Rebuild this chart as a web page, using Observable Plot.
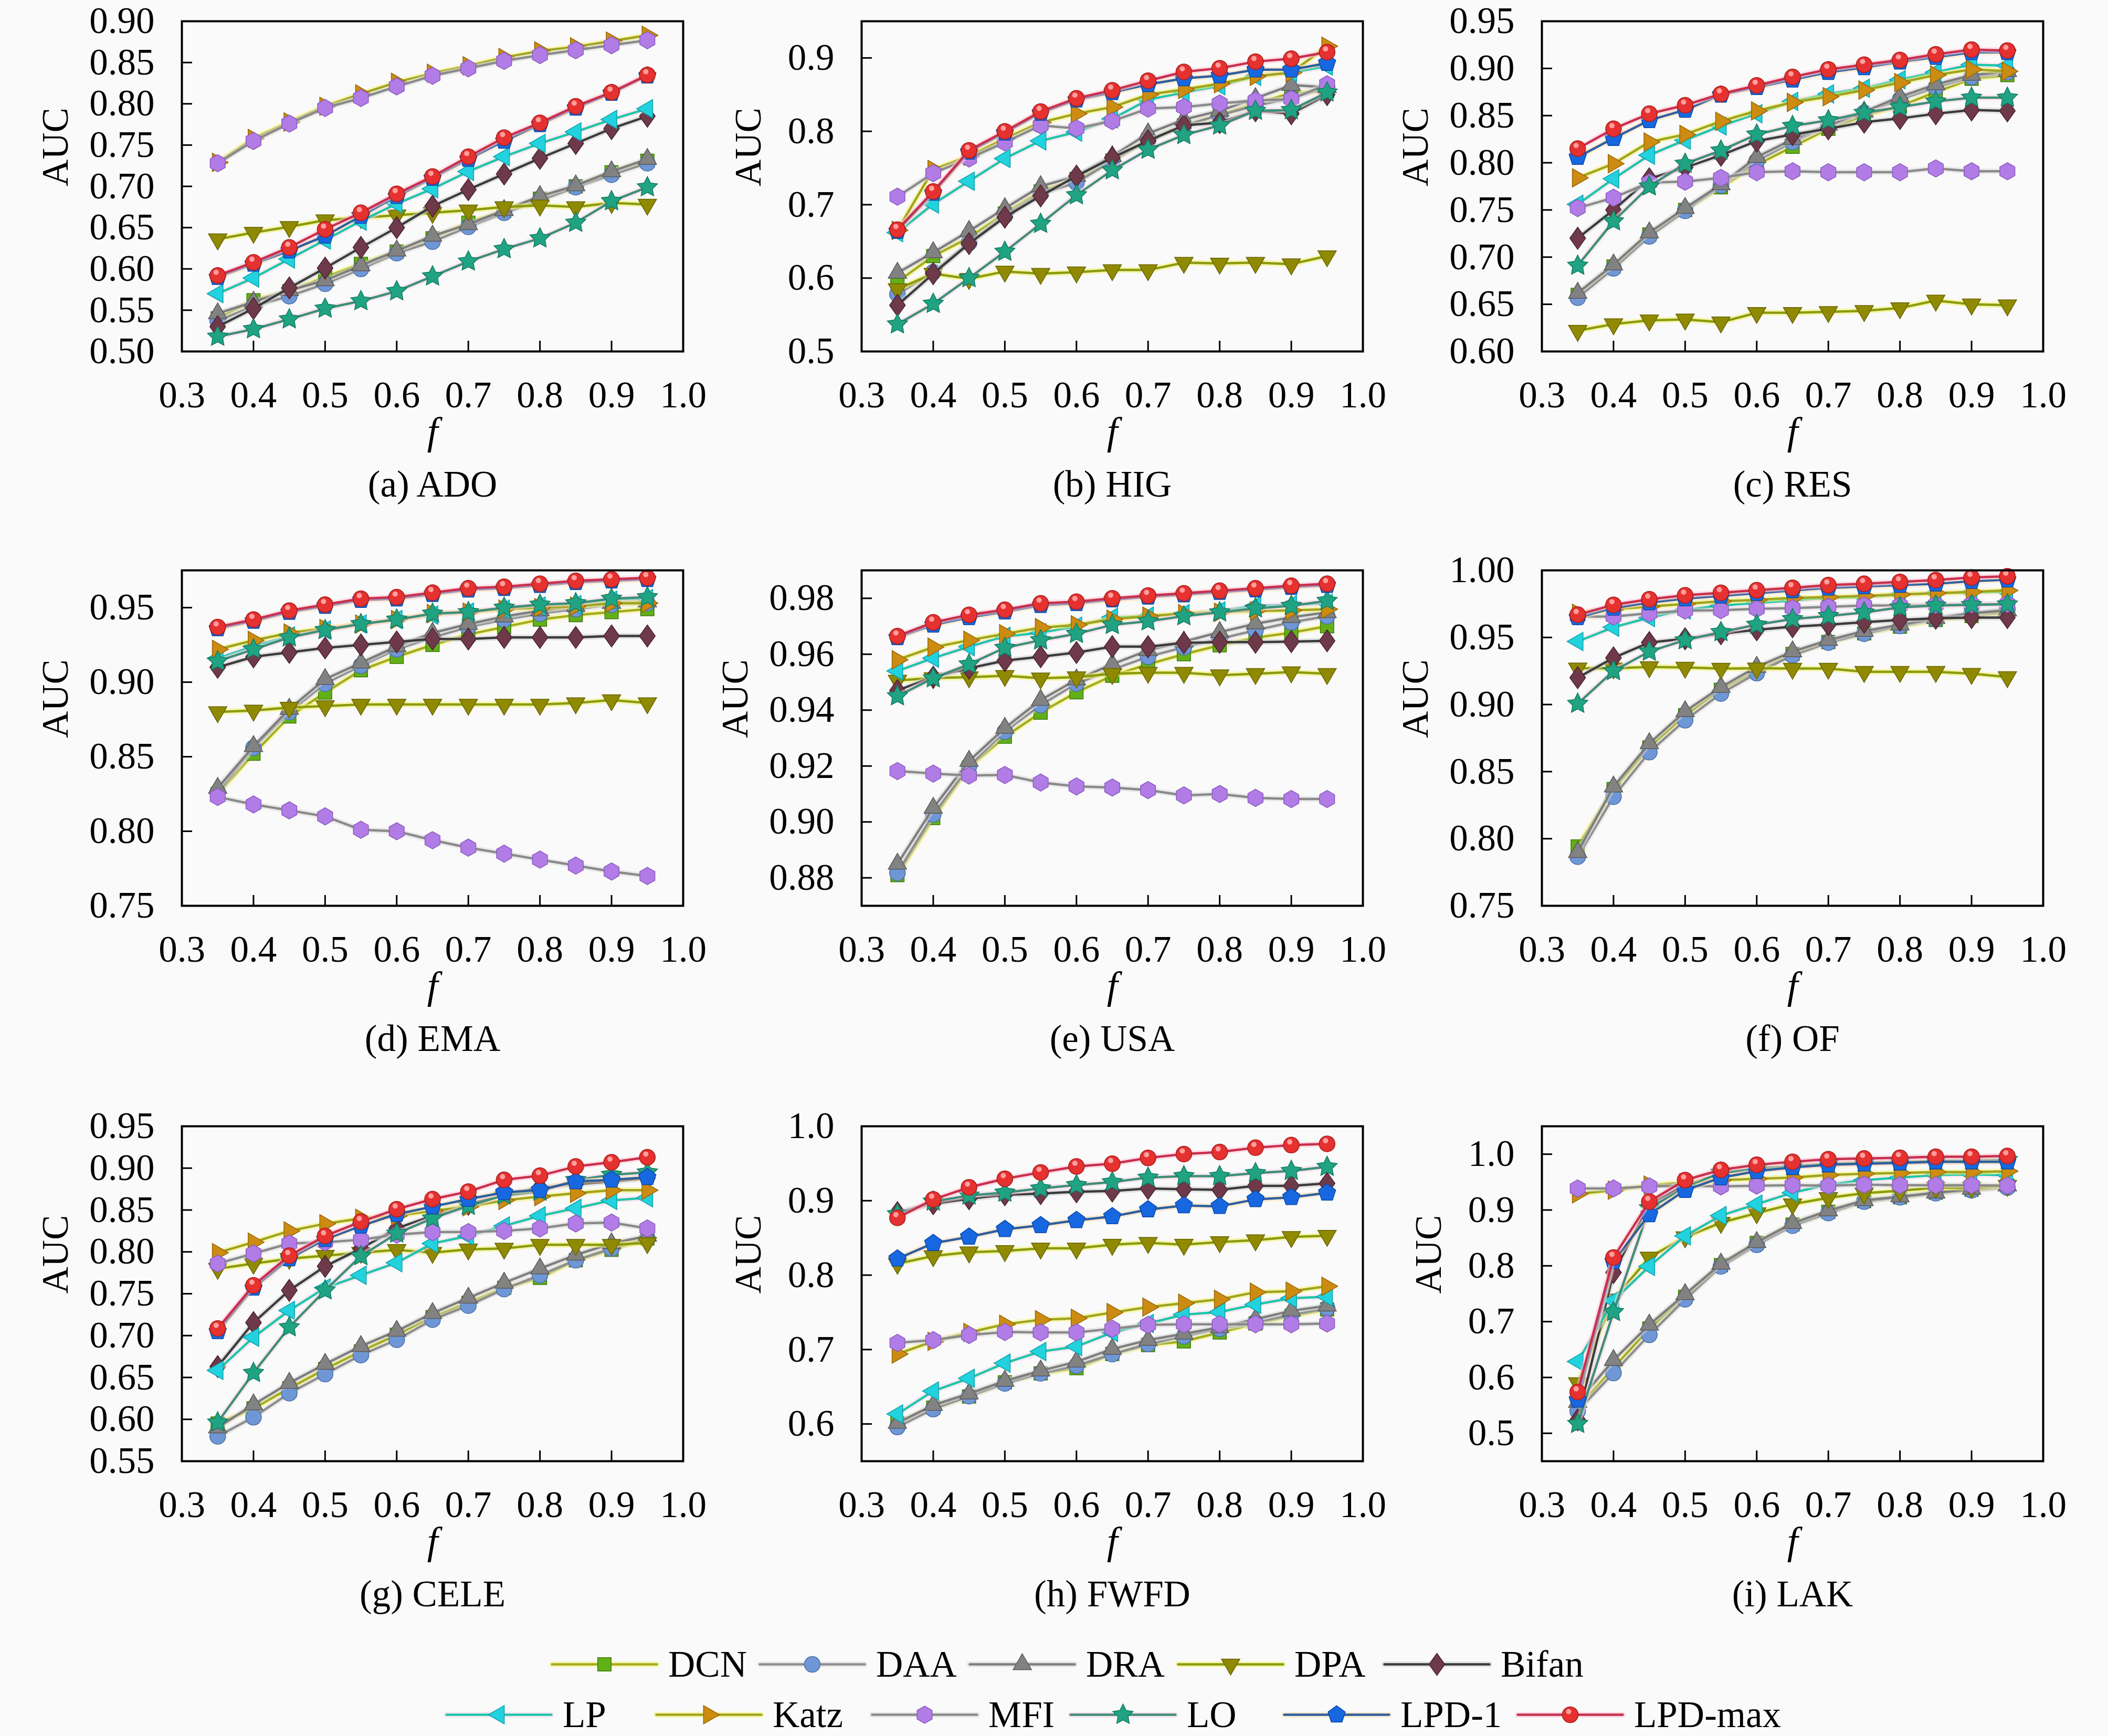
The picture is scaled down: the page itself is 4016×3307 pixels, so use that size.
<!DOCTYPE html>
<html><head><meta charset="utf-8">
<script src="https://cdn.jsdelivr.net/npm/d3@7"></script>
<script src="https://cdn.jsdelivr.net/npm/@observablehq/plot@0.6"></script>
<style>
html,body{margin:0;padding:0;background:#fafafa;}
#root{position:relative;width:4016px;height:3307px;background:#fafafa;overflow:hidden;font-family:"Liberation Serif",serif;}
.panel{position:absolute;}
.leg{position:absolute;display:flex;align-items:center;height:80px;color:#000;}
.leg span{margin-left:22px;line-height:1;}
</style></head>
<body><div id="root"></div>
<script>
// ---------- data ----------
const F = [0.35,0.40,0.45,0.50,0.55,0.60,0.65,0.70,0.75,0.80,0.85,0.90,0.95];
const X_TICKS = [0.3,0.4,0.5,0.6,0.7,0.8,0.9,1.0];
const METHODS = ["DCN","DAA","DRA","DPA","Bifan","LP","Katz","MFI","LO","LPD-1","LPD-max"];

// order of rows in every panel array = METHODS
const ADO = [
 [0.540,0.562,0.573,0.590,0.606,0.621,0.637,0.656,0.670,0.685,0.700,0.717,0.731],
 [0.537,0.555,0.567,0.582,0.600,0.619,0.633,0.651,0.668,0.683,0.699,0.714,0.728],
 [0.546,0.560,0.574,0.586,0.604,0.622,0.640,0.654,0.671,0.688,0.701,0.718,0.733],
 [0.636,0.644,0.651,0.659,0.662,0.665,0.668,0.671,0.675,0.677,0.675,0.680,0.678],
 [0.530,0.552,0.577,0.601,0.626,0.650,0.676,0.696,0.715,0.734,0.752,0.770,0.785],
 [0.570,0.589,0.612,0.635,0.658,0.679,0.697,0.718,0.736,0.752,0.766,0.781,0.794],
 [0.729,0.758,0.778,0.797,0.812,0.826,0.837,0.846,0.856,0.864,0.869,0.876,0.883],
 [0.728,0.755,0.776,0.795,0.807,0.821,0.834,0.843,0.852,0.859,0.865,0.871,0.877],
 [0.518,0.527,0.539,0.552,0.561,0.573,0.591,0.609,0.624,0.637,0.656,0.682,0.699],
 [0.590,0.606,0.622,0.640,0.664,0.688,0.710,0.733,0.755,0.775,0.795,0.813,0.834],
 [0.592,0.608,0.626,0.648,0.668,0.691,0.712,0.736,0.759,0.777,0.797,0.814,0.835]
];
const HIG = [
 [0.595,0.630,0.655,0.688,0.718,0.735,0.760,0.788,0.808,0.822,0.838,0.852,0.855],
 [0.578,0.608,0.648,0.685,0.715,0.730,0.760,0.788,0.808,0.822,0.835,0.845,0.860],
 [0.607,0.635,0.664,0.695,0.725,0.739,0.766,0.797,0.816,0.828,0.845,0.863,0.860],
 [0.585,0.606,0.599,0.609,0.606,0.608,0.611,0.611,0.621,0.620,0.621,0.619,0.630],
 [0.563,0.606,0.647,0.683,0.712,0.739,0.764,0.787,0.808,0.812,0.828,0.824,0.850],
 [0.662,0.701,0.732,0.763,0.787,0.799,0.817,0.843,0.853,0.862,0.875,0.880,0.889],
 [0.665,0.748,0.766,0.790,0.812,0.824,0.833,0.850,0.857,0.865,0.875,0.880,0.916],
 [0.711,0.743,0.763,0.785,0.808,0.804,0.814,0.831,0.833,0.838,0.842,0.844,0.864],
 [0.537,0.565,0.600,0.636,0.674,0.713,0.747,0.775,0.795,0.808,0.828,0.829,0.853],
 [0.664,0.716,0.772,0.798,0.825,0.843,0.853,0.864,0.872,0.876,0.884,0.884,0.893],
 [0.666,0.718,0.774,0.800,0.827,0.845,0.856,0.869,0.881,0.886,0.895,0.899,0.908]
];
const RES = [
 [0.660,0.690,0.724,0.750,0.774,0.798,0.817,0.836,0.850,0.860,0.875,0.889,0.893],
 [0.657,0.688,0.722,0.749,0.776,0.802,0.822,0.839,0.853,0.867,0.880,0.891,0.896],
 [0.662,0.692,0.726,0.752,0.777,0.806,0.825,0.840,0.854,0.870,0.883,0.893,0.897],
 [0.622,0.629,0.633,0.634,0.631,0.641,0.641,0.642,0.643,0.646,0.654,0.650,0.649],
 [0.720,0.750,0.783,0.795,0.808,0.823,0.830,0.836,0.843,0.847,0.852,0.856,0.855],
 [0.756,0.783,0.808,0.824,0.839,0.852,0.865,0.873,0.879,0.888,0.896,0.904,0.903],
 [0.784,0.799,0.822,0.830,0.844,0.855,0.864,0.870,0.877,0.885,0.893,0.899,0.897],
 [0.752,0.763,0.779,0.780,0.784,0.790,0.791,0.790,0.790,0.790,0.794,0.791,0.791],
 [0.691,0.738,0.775,0.799,0.813,0.830,0.839,0.845,0.853,0.859,0.865,0.869,0.869],
 [0.806,0.826,0.845,0.856,0.872,0.880,0.888,0.896,0.901,0.907,0.912,0.917,0.917],
 [0.815,0.836,0.852,0.861,0.873,0.882,0.891,0.899,0.904,0.909,0.915,0.920,0.919]
];
const EMA = [
 [0.825,0.852,0.877,0.893,0.908,0.917,0.925,0.932,0.937,0.942,0.945,0.947,0.949],
 [0.826,0.856,0.880,0.899,0.911,0.922,0.930,0.937,0.942,0.946,0.949,0.952,0.953],
 [0.829,0.857,0.882,0.902,0.913,0.924,0.933,0.939,0.944,0.948,0.951,0.953,0.954],
 [0.880,0.881,0.883,0.884,0.885,0.885,0.885,0.885,0.885,0.885,0.886,0.888,0.886],
 [0.910,0.917,0.920,0.923,0.925,0.927,0.929,0.929,0.930,0.930,0.930,0.931,0.931],
 [0.916,0.924,0.931,0.935,0.939,0.942,0.945,0.947,0.949,0.951,0.952,0.955,0.956],
 [0.922,0.928,0.933,0.936,0.939,0.942,0.946,0.947,0.949,0.950,0.951,0.953,0.953],
 [0.823,0.818,0.814,0.810,0.801,0.800,0.794,0.789,0.785,0.781,0.777,0.773,0.770],
 [0.914,0.922,0.930,0.935,0.939,0.942,0.946,0.947,0.950,0.952,0.953,0.956,0.957],
 [0.936,0.941,0.947,0.951,0.955,0.956,0.959,0.962,0.963,0.965,0.967,0.968,0.969],
 [0.937,0.942,0.948,0.952,0.956,0.957,0.960,0.963,0.964,0.966,0.968,0.969,0.970]
];
const USA = [
 [0.8810,0.9014,0.9195,0.9305,0.9391,0.9464,0.9523,0.9564,0.9600,0.9632,0.9659,0.9677,0.9700],
 [0.8818,0.9027,0.9200,0.9323,0.9418,0.9495,0.9545,0.9591,0.9625,0.9655,0.9686,0.9714,0.9736],
 [0.8850,0.9050,0.9218,0.9336,0.9436,0.9509,0.9564,0.9614,0.9645,0.9679,0.9709,0.9732,0.9750],
 [0.9506,0.9515,0.9518,0.9523,0.9514,0.9518,0.9530,0.9534,0.9534,0.9525,0.9530,0.9536,0.9530],
 [0.9470,0.9518,0.9550,0.9577,0.9591,0.9606,0.9627,0.9627,0.9641,0.9643,0.9643,0.9645,0.9648],
 [0.9540,0.9586,0.9627,0.9664,0.9677,0.9700,0.9732,0.9736,0.9745,0.9755,0.9773,0.9777,0.9782],
 [0.9580,0.9625,0.9650,0.9673,0.9695,0.9705,0.9725,0.9736,0.9745,0.9750,0.9755,0.9757,0.9761],
 [0.9182,0.9173,0.9166,0.9168,0.9141,0.9127,0.9123,0.9114,0.9095,0.9100,0.9086,0.9082,0.9082],
 [0.9450,0.9514,0.9564,0.9623,0.9650,0.9673,0.9705,0.9718,0.9736,0.9750,0.9764,0.9773,0.9791],
 [0.9660,0.9705,0.9732,0.9752,0.9775,0.9782,0.9795,0.9805,0.9813,0.9822,0.9831,0.9840,0.9847],
 [0.9665,0.9714,0.9741,0.9759,0.9782,0.9788,0.9800,0.9810,0.9818,0.9827,0.9836,0.9845,0.9852]
];
const OF = [
 [0.7942,0.8370,0.8680,0.8920,0.9110,0.9253,0.9377,0.9466,0.9530,0.9580,0.9630,0.9660,0.9690],
 [0.7866,0.8313,0.8645,0.8883,0.9082,0.9234,0.9367,0.9462,0.9528,0.9586,0.9637,0.9680,0.9710],
 [0.7900,0.8388,0.8710,0.8949,0.9130,0.9280,0.9395,0.9480,0.9548,0.9595,0.9643,0.9680,0.9700],
 [0.9270,0.9270,0.9280,0.9276,0.9268,0.9270,0.9268,0.9268,0.9244,0.9244,0.9244,0.9230,0.9205],
 [0.9200,0.9348,0.9462,0.9490,0.9528,0.9557,0.9580,0.9595,0.9614,0.9630,0.9643,0.9648,0.9648],
 [0.9470,0.9576,0.9648,0.9705,0.9738,0.9757,0.9776,0.9795,0.9800,0.9820,0.9830,0.9836,0.9840],
 [0.9680,0.9710,0.9730,0.9750,0.9770,0.9780,0.9795,0.9800,0.9810,0.9820,0.9830,0.9840,0.9850],
 [0.9656,0.9656,0.9680,0.9700,0.9703,0.9713,0.9718,0.9728,0.9738,0.9738,0.9743,0.9747,0.9750],
 [0.9006,0.9250,0.9395,0.9480,0.9540,0.9595,0.9637,0.9660,0.9686,0.9724,0.9738,0.9743,0.9747],
 [0.9650,0.9720,0.9760,0.9790,0.9810,0.9830,0.9850,0.9870,0.9880,0.9890,0.9900,0.9920,0.9930],
 [0.9670,0.9743,0.9785,0.9814,0.9833,0.9852,0.9870,0.9890,0.9900,0.9914,0.9928,0.9947,0.9956]
];
const CELE = [
 [0.5950,0.6130,0.6370,0.6600,0.6810,0.7010,0.7220,0.7390,0.7570,0.7690,0.7900,0.8025,0.8160],
 [0.5797,0.6025,0.6312,0.6540,0.6767,0.6950,0.7190,0.7358,0.7555,0.7722,0.7900,0.8040,0.8160],
 [0.5900,0.6176,0.6434,0.6660,0.6873,0.7055,0.7267,0.7450,0.7630,0.7800,0.7964,0.8100,0.8190],
 [0.7800,0.7860,0.7918,0.7955,0.7990,0.8024,0.7990,0.8030,0.8040,0.8085,0.8085,0.8085,0.8106],
 [0.6630,0.7155,0.7540,0.7827,0.8040,0.8280,0.8430,0.8570,0.8676,0.8767,0.8810,0.8840,0.8880],
 [0.6585,0.6980,0.7300,0.7570,0.7720,0.7870,0.8100,0.8190,0.8310,0.8430,0.8520,0.8615,0.8646],
 [0.7990,0.8115,0.8250,0.8336,0.8400,0.8430,0.8490,0.8540,0.8615,0.8660,0.8700,0.8736,0.8736],
 [0.7860,0.7980,0.8100,0.8115,0.8145,0.8206,0.8236,0.8236,0.8250,0.8280,0.8340,0.8350,0.8280],
 [0.5964,0.6555,0.7100,0.7540,0.7950,0.8220,0.8400,0.8550,0.8676,0.8720,0.8858,0.8920,0.8950],
 [0.7050,0.7570,0.7920,0.8150,0.8310,0.8450,0.8540,0.8630,0.8710,0.8740,0.8840,0.8860,0.8890],
 [0.7085,0.7600,0.7955,0.8190,0.8360,0.8510,0.8630,0.8720,0.8860,0.8910,0.9020,0.9070,0.9130]
];
const FWFD = [
 [0.6010,0.6220,0.6370,0.6560,0.6680,0.6750,0.6940,0.7060,0.7110,0.7230,0.7350,0.7450,0.7540],
 [0.5960,0.6200,0.6373,0.6544,0.6680,0.6784,0.6938,0.7075,0.7178,0.7280,0.7366,0.7470,0.7555],
 [0.6014,0.6253,0.6408,0.6579,0.6716,0.6836,0.7007,0.7127,0.7212,0.7298,0.7408,0.7520,0.7589],
 [0.8154,0.8257,0.8308,0.8325,0.8360,0.8360,0.8410,0.8435,0.8410,0.8445,0.8470,0.8514,0.8530],
 [0.8840,0.8960,0.9027,0.9080,0.9096,0.9120,0.9130,0.9164,0.9154,0.9147,0.9199,0.9199,0.9233],
 [0.6134,0.6442,0.6613,0.6818,0.6973,0.7040,0.7230,0.7350,0.7470,0.7503,0.7606,0.7690,0.7710],
 [0.6940,0.7110,0.7230,0.7340,0.7400,0.7420,0.7497,0.7570,0.7623,0.7675,0.7770,0.7784,0.7850],
 [0.7090,0.7127,0.7195,0.7236,0.7230,0.7230,0.7280,0.7332,0.7340,0.7340,0.7340,0.7340,0.7350],
 [0.8820,0.8990,0.9070,0.9110,0.9164,0.9210,0.9250,0.9310,0.9330,0.9330,0.9370,0.9400,0.9455],
 [0.8220,0.8428,0.8514,0.8616,0.8668,0.8736,0.8788,0.8880,0.8935,0.8925,0.9017,0.9045,0.9106],
 [0.8770,0.9017,0.9180,0.9295,0.9380,0.9460,0.9497,0.9575,0.9627,0.9654,0.9712,0.9747,0.9764]
];
const LAK = [
 [0.5445,0.6170,0.6877,0.7445,0.8013,0.8410,0.8740,0.8968,0.9160,0.9227,0.9310,0.9364,0.9436],
 [0.5400,0.6080,0.6764,0.7400,0.7990,0.8377,0.8718,0.8945,0.9150,0.9227,0.9300,0.9355,0.9400],
 [0.5560,0.6310,0.6945,0.7490,0.8036,0.8423,0.8764,0.8990,0.9173,0.9240,0.9310,0.9377,0.9436],
 [0.5900,0.7400,0.8150,0.8514,0.8773,0.8945,0.9105,0.9218,0.9300,0.9345,0.9400,0.9400,0.9436],
 [0.5240,0.7880,0.9100,0.9445,0.9650,0.9740,0.9786,0.9820,0.9845,0.9855,0.9864,0.9877,0.9877],
 [0.6286,0.7377,0.7990,0.8536,0.8900,0.9105,0.9310,0.9455,0.9536,0.9580,0.9627,0.9636,0.9627],
 [0.9290,0.9355,0.9445,0.9490,0.9536,0.9560,0.9580,0.9627,0.9650,0.9664,0.9680,0.9680,0.9695],
 [0.9386,0.9386,0.9423,0.9436,0.9423,0.9436,0.9445,0.9436,0.9455,0.9445,0.9445,0.9445,0.9436],
 [0.5170,0.7173,0.9036,0.9400,0.9670,0.9740,0.9786,0.9830,0.9845,0.9864,0.9877,0.9890,0.9900],
 [0.5600,0.8080,0.8920,0.9355,0.9580,0.9695,0.9764,0.9810,0.9830,0.9845,0.9864,0.9864,0.9864],
 [0.5740,0.8150,0.9150,0.9536,0.9720,0.9810,0.9864,0.9910,0.9923,0.9936,0.9955,0.9955,0.9968]
];

const ADO_TICKS  = [0.50,0.55,0.60,0.65,0.70,0.75,0.80,0.85,0.90];
const HIG_TICKS  = [0.5,0.6,0.7,0.8,0.9];
const RES_TICKS  = [0.60,0.65,0.70,0.75,0.80,0.85,0.90,0.95];
const EMA_TICKS  = [0.75,0.80,0.85,0.90,0.95];
const USA_TICKS  = [0.88,0.90,0.92,0.94,0.96,0.98];
const OF_TICKS   = [0.75,0.80,0.85,0.90,0.95,1.00];
const CELE_TICKS = [0.55,0.60,0.65,0.70,0.75,0.80,0.85,0.90,0.95];
const FWFD_TICKS = [0.6,0.7,0.8,0.9,1.0];
const LAK_TICKS  = [0.5,0.6,0.7,0.8,0.9,1.0];

const PANEL_NAMES = ["(a) ADO","(b) HIG","(c) RES","(d) EMA","(e) USA","(f) OF","(g) CELE","(h) FWFD","(i) LAK"];

// ---------- font ----------
const FONT = `"Liberation Serif", serif`;
const FS = 71;

// ---------- marker shapes ----------
function poly(n, rot, scale){
  return {draw(ctx, size){
    const r = Math.sqrt(size/Math.PI)*scale;
    for (let k=0;k<n;k++){
      const a = rot + 2*Math.PI*k/n, x = r*Math.cos(a), y = r*Math.sin(a);
      if (k) ctx.lineTo(x,y); else ctx.moveTo(x,y);
    }
    ctx.closePath();
  }};
}
const TRI_UP = poly(3,-Math.PI/2,1.35), TRI_DOWN = poly(3,Math.PI/2,1.35),
      TRI_LEFT = poly(3,Math.PI,1.35), TRI_RIGHT = poly(3,0,1.35),
      SQUARE = poly(4,Math.PI/4,1.2), PENT = poly(5,-Math.PI/2,1.15), HEX = poly(6,-Math.PI/2,1.1);
const DIAMOND = {draw(ctx,size){const r=Math.sqrt(size/Math.PI);ctx.moveTo(0,-1.4*r);ctx.lineTo(1.0*r,0);ctx.lineTo(0,1.4*r);ctx.lineTo(-1.0*r,0);ctx.closePath();}};
const STAR = {draw(ctx,size){const r=Math.sqrt(size/Math.PI)*1.35;for(let k=0;k<10;k++){const a=-Math.PI/2+Math.PI*k/5, rr=k%2?r*0.5:r;const x=rr*Math.cos(a),y=rr*Math.sin(a);if(k)ctx.lineTo(x,y);else ctx.moveTo(x,y);}ctx.closePath();}};

const STYLE = {
 "DCN":    {line:"#a4ac1e", halo:"#f4f27a", fill:"#62b018", edge:"#3f7a08", sym:SQUARE},
 "DAA":    {line:"#8e8e8e", halo:"#dcdcdc", fill:"#6f97d6", edge:"#4a6fa8", sym:"circle"},
 "DRA":    {line:"#7e7e7e", halo:"#d6d6d6", fill:"#828282", edge:"#5a5a5a", sym:TRI_UP},
 "DPA":    {line:"#8c9b0c", halo:"#f0f070", fill:"#8f8a02", edge:"#6a6400", sym:TRI_DOWN},
 "Bifan":  {line:"#3c3c3c", halo:"#cfcfcf", fill:"#6e3a4a", edge:"#4a2230", sym:DIAMOND},
 "LP":     {line:"#1fc6a8", halo:"#ffd9ec", fill:"#22d2de", edge:"#10a0aa", sym:TRI_LEFT},
 "Katz":   {line:"#a0a41e", halo:"#f4f27a", fill:"#cc8c12", edge:"#9a6608", sym:TRI_RIGHT},
 "MFI":    {line:"#8a8a8a", halo:"#dddddd", fill:"#b27ce6", edge:"#8a5ac0", sym:HEX},
 "LO":     {line:"#3e8f78", halo:"#ffd6e6", fill:"#20a383", edge:"#137a60", sym:STAR},
 "LPD-1":  {line:"#2f5f9e", halo:"#ffe0b4", fill:"#1768e0", edge:"#0c48a8", sym:PENT},
 "LPD-max":{line:"#c8304e", halo:"#ffc6d6", fill:"#e5312f", edge:"#a81c1c", sym:"circle", shine:"#ff9e9e"}
};

const PANELS = [
 {name:PANEL_NAMES[0], data:ADO,  domain:[0.50,0.90],  ticks:ADO_TICKS,  fmt:".2f"},
 {name:PANEL_NAMES[1], data:HIG,  domain:[0.50,0.95],  ticks:HIG_TICKS,  fmt:".1f"},
 {name:PANEL_NAMES[2], data:RES,  domain:[0.60,0.95],  ticks:RES_TICKS,  fmt:".2f"},
 {name:PANEL_NAMES[3], data:EMA,  domain:[0.75,0.975], ticks:EMA_TICKS,  fmt:".2f"},
 {name:PANEL_NAMES[4], data:USA,  domain:[0.87,0.99],  ticks:USA_TICKS,  fmt:".2f"},
 {name:PANEL_NAMES[5], data:OF,   domain:[0.75,1.00],  ticks:OF_TICKS,   fmt:".2f"},
 {name:PANEL_NAMES[6], data:CELE, domain:[0.55,0.95],  ticks:CELE_TICKS, fmt:".2f"},
 {name:PANEL_NAMES[7], data:FWFD, domain:[0.55,1.00],  ticks:FWFD_TICKS, fmt:".1f"},
 {name:PANEL_NAMES[8], data:LAK,  domain:[0.45,1.05],  ticks:LAK_TICKS,  fmt:".1f"}
];

function seriesMarks(m, rows){
  const s = STYLE[m];
  const out = [
    Plot.line(rows,{x:"f",y:"v",stroke:s.halo,strokeWidth:11,strokeOpacity:0.55}),
    Plot.line(rows,{x:"f",y:"v",stroke:s.line,strokeWidth:4.5}),
    Plot.dot(rows,{x:"f",y:"v",r:15,symbol:s.sym,fill:s.fill,stroke:s.edge,strokeWidth:1.5})
  ];
  if (s.shine) out.push(Plot.dot(rows,{x:"f",y:"v",r:5,dx:-3,dy:-6,fill:s.shine}));
  return out;
}

function makePanel(cfg, frameH){
  const marks = [
    Plot.axisX({ticks:X_TICKS.slice(1,-1), tickSize:20, dy:-20, fill:"none", stroke:"#000", strokeWidth:3, label:null}),
    Plot.axisY({ticks:cfg.ticks, tickSize:20, dx:20, fill:"none", stroke:"#000", strokeWidth:3, label:null}),
    Plot.axisX({ticks:X_TICKS, tickSize:0, tickPadding:56, tickFormat:d3.format(".1f"), label:null, fontSize:FS}),
    Plot.axisY({ticks:cfg.ticks, tickSize:0, tickPadding:52, tickFormat:d3.format(cfg.fmt), label:null, fontSize:FS})
  ];
  METHODS.forEach((m,i)=>{
    const rows = F.map((f,j)=>({f, v:cfg.data[i][j]}));
    marks.push(...seriesMarks(m, rows));
  });
  marks.push(Plot.frame({stroke:"#000", strokeWidth:4}));
  const labOff = cfg.fmt === ".2f" ? 240 : 215;
  marks.push(Plot.text(["AUC"],{frameAnchor:"left", rotate:-90, dx:-labOff, fontSize:FS}));
  marks.push(Plot.text(["f"],{frameAnchor:"bottom", dy:176, fontSize:FS*1.05, fontStyle:"italic"}));
  marks.push(Plot.text([cfg.name],{frameAnchor:"bottom", dy:276, fontSize:FS}));
  return Plot.plot({
    width:1341, height:40+frameH+310, marginLeft:346, marginRight:40, marginTop:40, marginBottom:310,
    x:{domain:[0.3,1.0], label:null},
    y:{domain:cfg.domain, label:null},
    style:{fontFamily:FONT, fontSize:FS+"px", background:"transparent", color:"#000", overflow:"visible"},
    marks
  });
}

const root = document.getElementById("root");
const COL_LEFT = [0,1295,2591], ROW_TOP = [0,1046,2105], FRAME_H = [629,639,638];
PANELS.forEach((cfg,k)=>{
  const row = Math.floor(k/3);
  const el = makePanel(cfg, FRAME_H[row]);
  const wrap = document.createElement("div");
  wrap.className = "panel";
  wrap.style.left = COL_LEFT[k%3]+"px";
  wrap.style.top = ROW_TOP[row]+"px";
  wrap.appendChild(el);
  root.appendChild(wrap);
});

// ---------- legend ----------
const LEG_ROWS = [
  {items:["DCN","DAA","DRA","DPA","Bifan"], lefts:[1051,1447,1847,2244,2637], cy:3170},
  {items:["LP","Katz","MFI","LO","LPD-1","LPD-max"], lefts:[850,1250,1661,2039,2446,2891], cy:3266}
];
LEG_ROWS.forEach(row=>{
  row.items.forEach((m,i)=>{
    const sample = [{f:0,v:0.5},{f:1,v:0.5}];
    const mid = [{f:0.5,v:0.5}];
    const s = STYLE[m];
    const marks = [
      Plot.line(sample,{x:"f",y:"v",stroke:s.halo,strokeWidth:11,strokeOpacity:0.55}),
      Plot.line(sample,{x:"f",y:"v",stroke:s.line,strokeWidth:4.5}),
      Plot.dot(mid,{x:"f",y:"v",r:15,symbol:s.sym,fill:s.fill,stroke:s.edge,strokeWidth:1.5})
    ];
    if (s.shine) marks.push(Plot.dot(mid,{x:"f",y:"v",r:5,dx:-3,dy:-6,fill:s.shine}));
    const svg = Plot.plot({width:200,height:80,margin:0,x:{domain:[0,1],axis:null},y:{domain:[0,1],axis:null},
      style:{background:"transparent",overflow:"visible"}, marks});
    const d = document.createElement("div");
    d.className = "leg";
    d.style.left = row.lefts[i]+"px";
    d.style.top = (row.cy-40)+"px";
    d.style.fontSize = FS+"px";
    d.style.fontFamily = FONT;
    d.appendChild(svg);
    const t = document.createElement("span");
    t.textContent = m;
    d.appendChild(t);
    root.appendChild(d);
  });
});
</script>
</body></html>
